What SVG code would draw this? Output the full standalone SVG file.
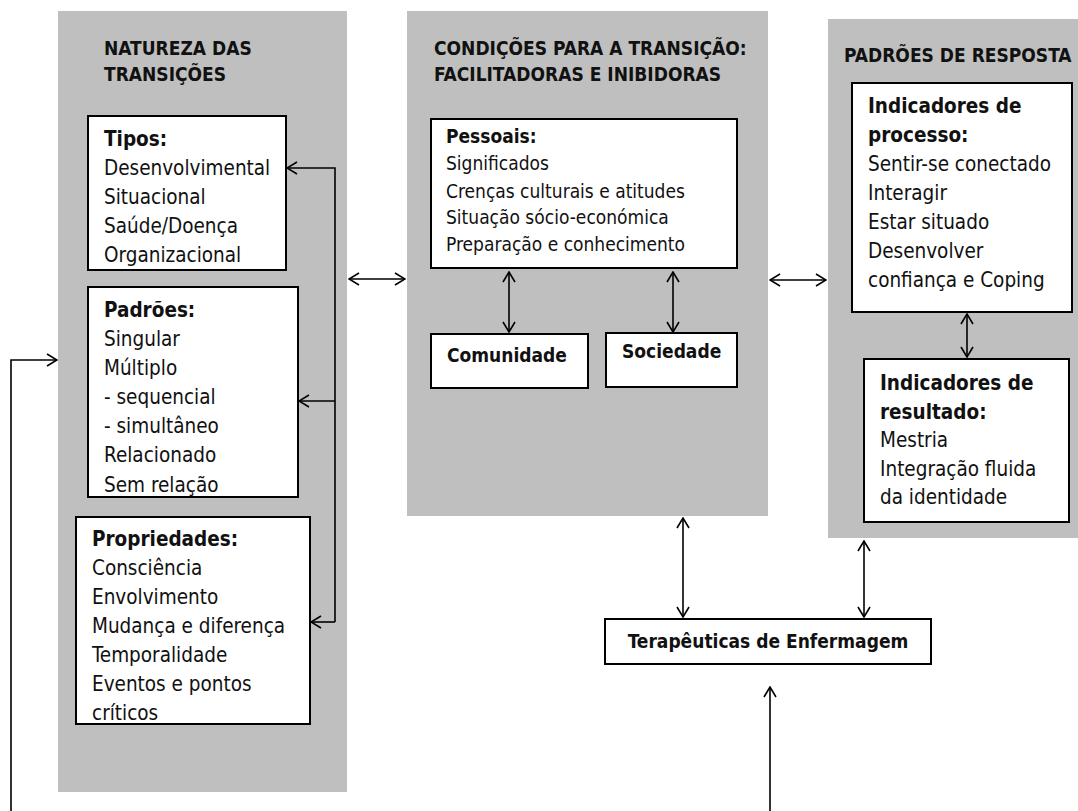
<svg xmlns="http://www.w3.org/2000/svg" width="1078" height="811" viewBox="0 0 1078 811">
<style>
.panel{fill:#bfbfbf;stroke:none}
.box{fill:#fff;stroke:#000;stroke-width:2}
text{font-family:"DejaVu Sans Condensed","DejaVu Sans",sans-serif;font-stretch:condensed;fill:#111}
.t{font-size:19px;font-weight:bold}
.r{font-size:20.5px}
.rb{font-size:20.5px;font-weight:bold}
.c{font-size:19px}
.cb{font-size:19px;font-weight:bold}
.ln{fill:none;stroke:#000;stroke-width:1.6}
</style>
<defs>
<marker id="ah" viewBox="0 0 12 14" refX="11" refY="7" markerWidth="12" markerHeight="14" orient="auto-start-reverse" markerUnits="userSpaceOnUse">
<path d="M1,1 L11,7 L1,13" fill="none" stroke="#000" stroke-width="1.6"/>
</marker>
</defs>
<rect width="1078" height="811" fill="#fff"/>

<g id="panel-natureza">
<rect class="panel" x="58" y="11" width="289" height="781"/>
<text class="t" x="104" y="55">NATUREZA DAS</text>
<text class="t" x="104" y="81">TRANSIÇÕES</text>
</g>
<g id="node-tipos">
<rect class="box" x="88" y="116" width="198" height="154"/>
<text class="rb" x="104" y="146">Tipos:</text>
<text class="r" x="104" y="175">Desenvolvimental</text>
<text class="r" x="104" y="204">Situacional</text>
<text class="r" x="104" y="233">Saúde/Doença</text>
<text class="r" x="104" y="262">Organizacional</text>
</g>
<g id="node-padroes">
<rect class="box" x="88" y="287" width="210" height="210"/>
<text class="rb" x="104" y="317">Padrões:</text>
<text class="r" x="104" y="346">Singular</text>
<text class="r" x="104" y="375">Múltiplo</text>
<text class="r" x="104" y="404">- sequencial</text>
<text class="r" x="104" y="433">- simultâneo</text>
<text class="r" x="104" y="462">Relacionado</text>
<text class="r" x="104" y="492">Sem relação</text>
</g>
<g id="node-propriedades">
<rect class="box" x="76" y="517" width="234" height="207"/>
<text class="rb" x="92" y="546">Propriedades:</text>
<text class="r" x="92" y="575">Consciência</text>
<text class="r" x="92" y="604">Envolvimento</text>
<text class="r" x="92" y="633">Mudança e diferença</text>
<text class="r" x="92" y="662">Temporalidade</text>
<text class="r" x="92" y="691">Eventos e pontos</text>
<text class="r" x="92" y="720">críticos</text>
</g>

<g id="panel-condicoes">
<rect class="panel" x="407" y="11" width="361" height="505"/>
<text class="t" x="434" y="55">CONDIÇÕES PARA A TRANSIÇÃO:</text>
<text class="t" x="434" y="81">FACILITADORAS E INIBIDORAS</text>
</g>
<g id="node-pessoais">
<rect class="box" x="431" y="119" width="306" height="149"/>
<text class="cb" x="446" y="143">Pessoais:</text>
<text class="c" x="446" y="170">Significados</text>
<text class="c" x="446" y="198">Crenças culturais e atitudes</text>
<text class="c" x="446" y="224">Situação sócio-económica</text>
<text class="c" x="446" y="251">Preparação e conhecimento</text>
</g>
<g id="node-comunidade">
<rect class="box" x="431" y="334" width="157" height="54"/>
<text class="cb" x="447" y="362">Comunidade</text>
</g>
<g id="node-sociedade">
<rect class="box" x="606" y="333" width="131" height="54"/>
<text class="cb" x="622" y="358">Sociedade</text>
</g>

<g id="panel-padroes-resposta">
<rect class="panel" x="828" y="19" width="250" height="519"/>
<text class="t" x="844" y="62">PADRÕES DE RESPOSTA</text>
</g>
<g id="node-processo">
<rect class="box" x="852" y="83" width="220" height="229"/>
<text class="rb" x="868" y="113">Indicadores de</text>
<text class="rb" x="868" y="142">processo:</text>
<text class="r" x="868" y="171">Sentir-se conectado</text>
<text class="r" x="868" y="200">Interagir</text>
<text class="r" x="868" y="229">Estar situado</text>
<text class="r" x="868" y="258">Desenvolver</text>
<text class="r" x="868" y="287">confiança e Coping</text>
</g>
<g id="node-resultado">
<rect class="box" x="864" y="359" width="205" height="163"/>
<text class="rb" x="880" y="390">Indicadores de</text>
<text class="rb" x="880" y="419">resultado:</text>
<text class="r" x="880" y="447">Mestria</text>
<text class="r" x="880" y="476">Integração fluida</text>
<text class="r" x="880" y="504">da identidade</text>
</g>

<g id="node-terapeuticas">
<rect class="box" x="605" y="619" width="326" height="45"/>
<text class="cb" x="768" y="648" text-anchor="middle">Terapêuticas de Enfermagem</text>
</g>

<g id="connectors">
<polyline class="ln" points="335,622 335,168 287,168" marker-end="url(#ah)"/>
<line class="ln" x1="335" y1="401" x2="299" y2="401" marker-end="url(#ah)"/>
<line class="ln" x1="335" y1="622" x2="311" y2="622" marker-end="url(#ah)"/>
<line class="ln" x1="349" y1="279" x2="405" y2="279" marker-start="url(#ah)" marker-end="url(#ah)"/>
<line class="ln" x1="770" y1="280" x2="826" y2="280" marker-start="url(#ah)" marker-end="url(#ah)"/>
<line class="ln" x1="509" y1="272" x2="509" y2="332" marker-start="url(#ah)" marker-end="url(#ah)"/>
<line class="ln" x1="673" y1="272" x2="673" y2="332" marker-start="url(#ah)" marker-end="url(#ah)"/>
<line class="ln" x1="967" y1="314" x2="967" y2="357" marker-start="url(#ah)" marker-end="url(#ah)"/>
<line class="ln" x1="683" y1="518" x2="683" y2="617" marker-start="url(#ah)" marker-end="url(#ah)"/>
<line class="ln" x1="864" y1="541" x2="864" y2="617" marker-start="url(#ah)" marker-end="url(#ah)"/>
<line class="ln" x1="770" y1="811" x2="770" y2="687" marker-end="url(#ah)"/>
<polyline class="ln" points="11,811 11,360 57,360" marker-end="url(#ah)"/>
</g>
</svg>
